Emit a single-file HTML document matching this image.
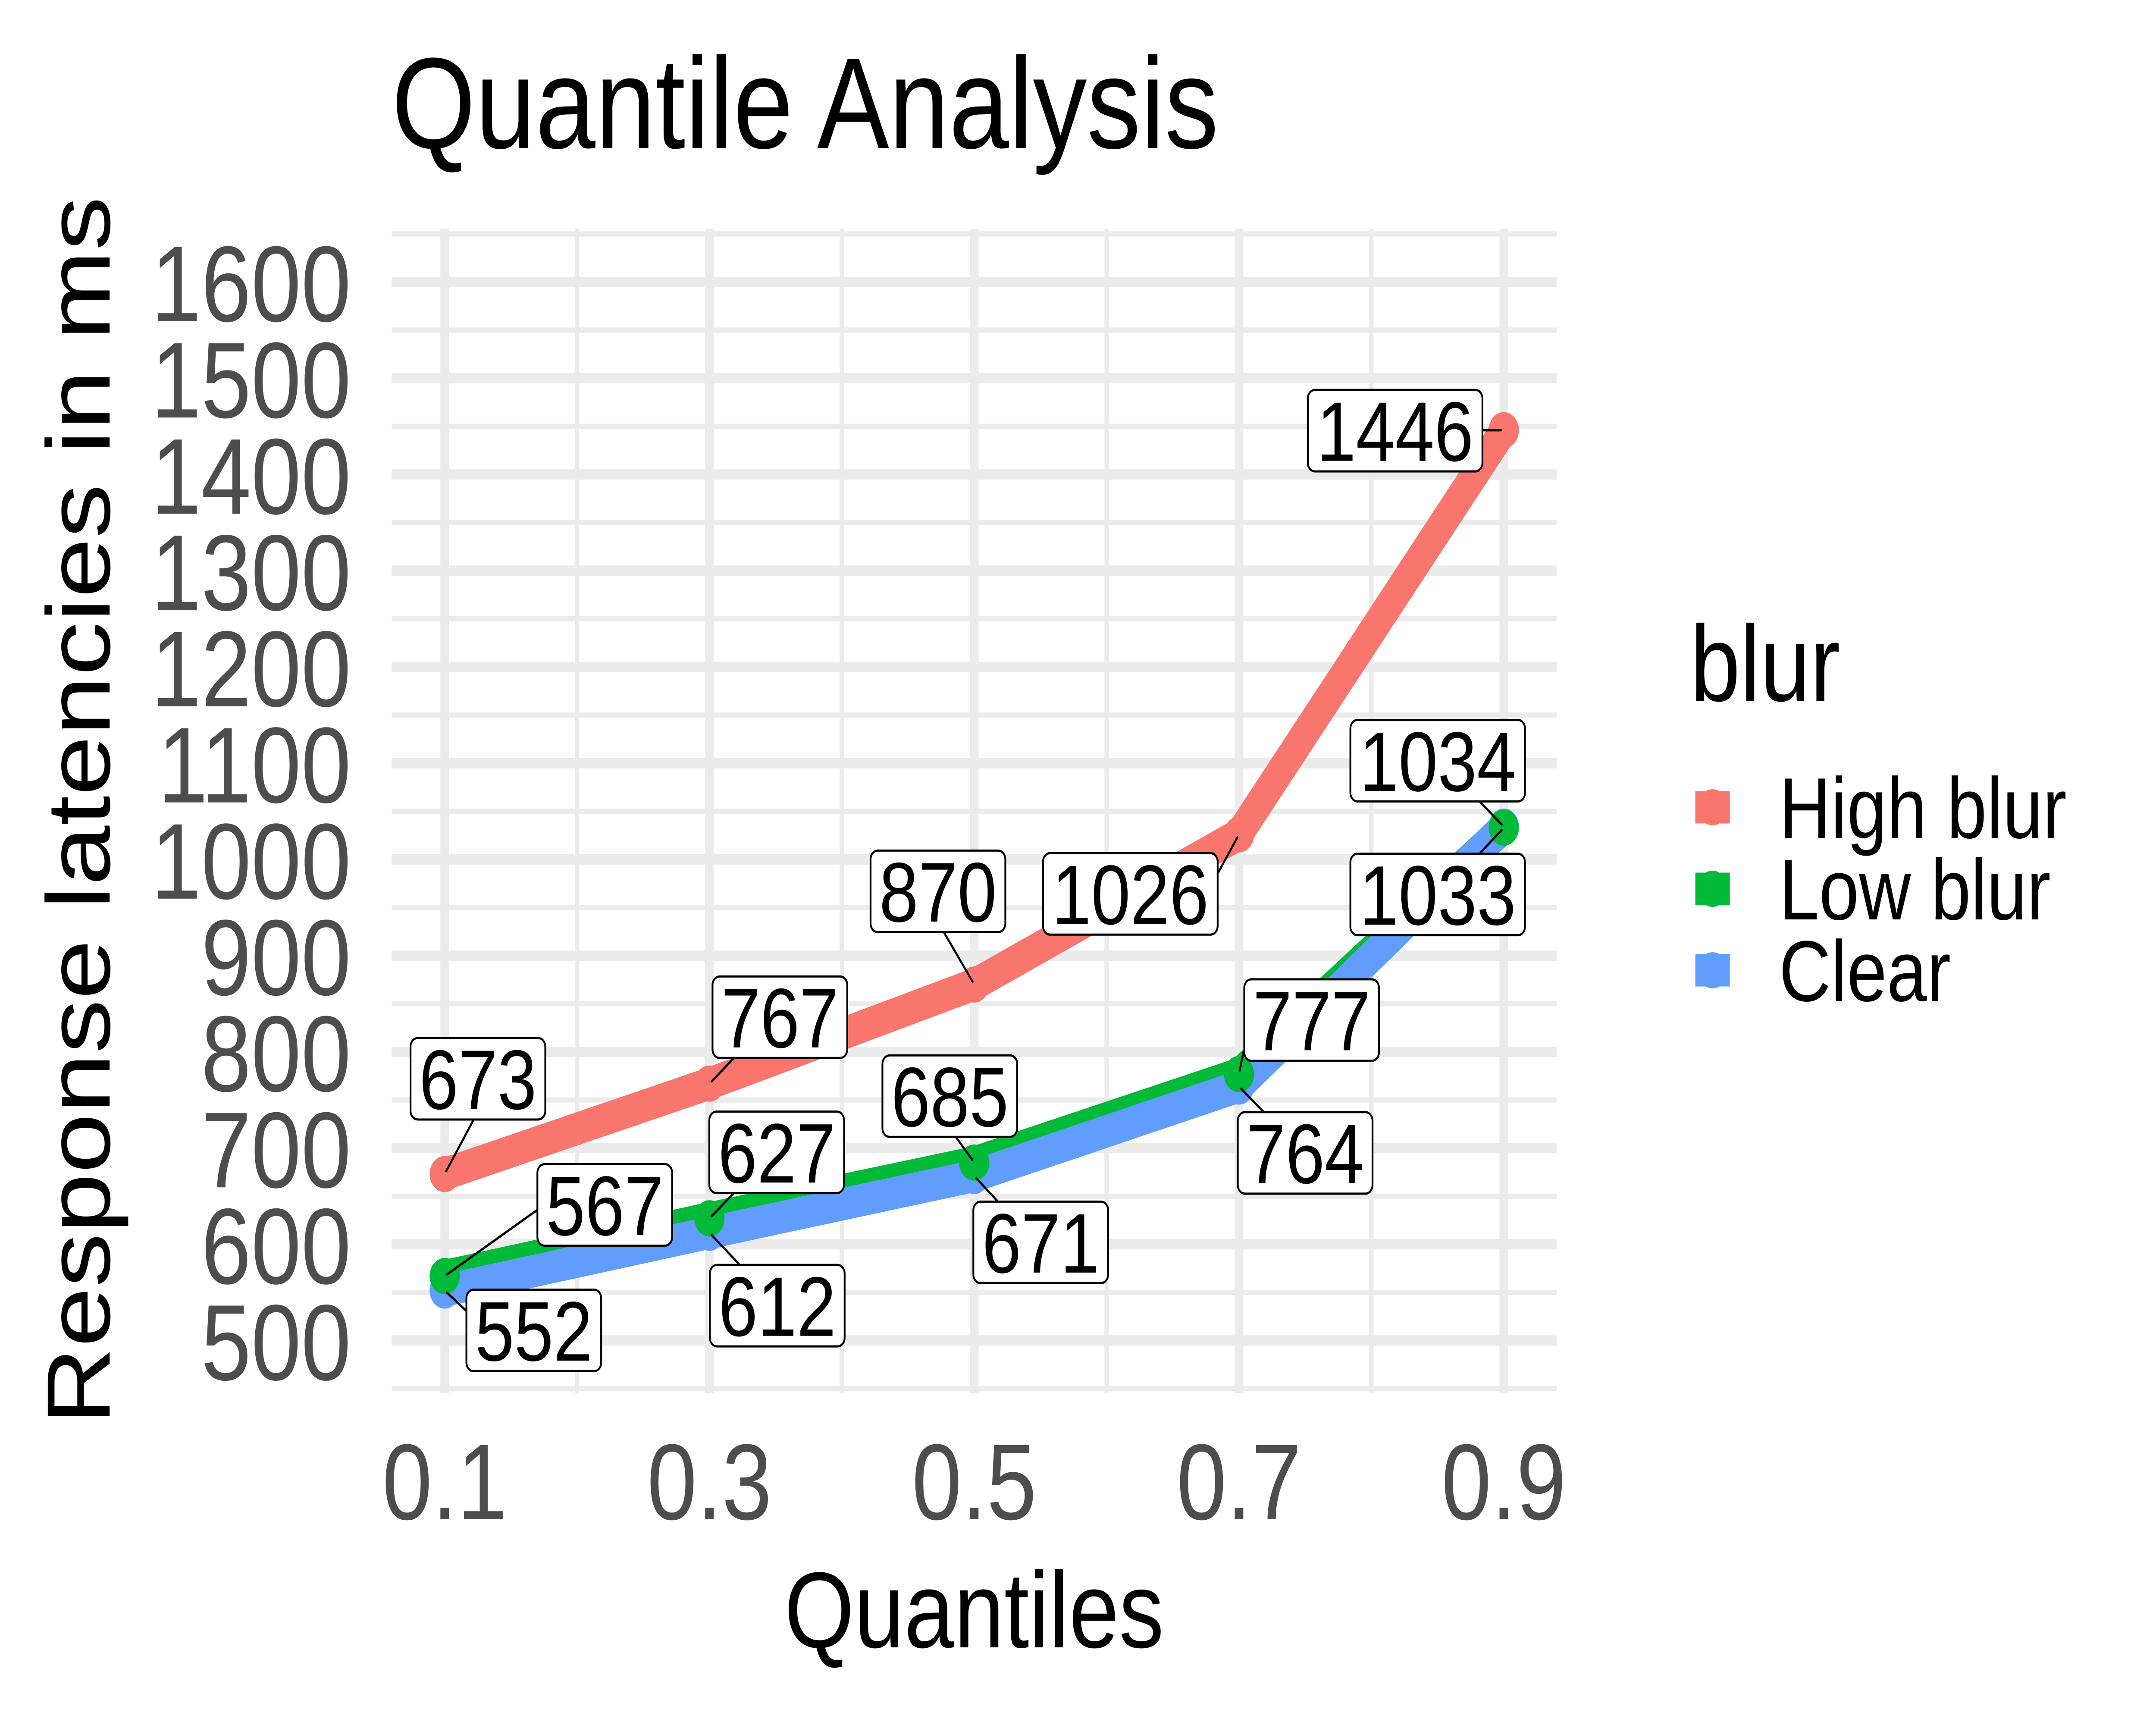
<!DOCTYPE html>
<html lang="en">
<head>
<meta charset="utf-8">
<title>Quantile Analysis</title>
<style>
html,body{margin:0;padding:0;background:#fff;width:100%;height:100%;overflow:hidden;}
svg{display:block;width:100%;height:100%;font-family:"Liberation Sans",Arial,sans-serif;}
</style>
</head>
<body>
<svg id="chart" xmlns="http://www.w3.org/2000/svg" viewBox="0 0 6000 4000" preserveAspectRatio="none">
  <rect x="0" y="0" width="6000" height="4000" fill="#ffffff"/>
  <g id="grid"></g>
  <g id="series-lines"></g>
  <g id="series-points"></g>
  <g id="value-labels"></g>
  <g id="y-ticks" font-size="250" fill="#4D4D4D" text-anchor="end"></g>
  <g id="x-ticks" font-size="250" fill="#4D4D4D" text-anchor="middle"></g>
  <text x="1090" y="343" font-size="300" fill="#000">Quantile Analysis</text>
  <text x="2711" y="3820" font-size="250" fill="#000" text-anchor="middle">Quantiles</text>
  <text transform="translate(305 1880) rotate(-90)" font-size="250" fill="#000" text-anchor="middle">Response latencies in ms</text>
  <g id="legend">
    <text x="4704" y="1625" font-size="250" fill="#000">blur</text>
  </g>
</svg>
<script>
const quantiles = [0.1, 0.3, 0.5, 0.7, 0.9];
const xTickLabels = ["0.1", "0.3", "0.5", "0.7", "0.9"];
const xMinorBreaks = [0.2, 0.4, 0.6, 0.8];
const yTickValues = [500, 600, 700, 800, 900, 1000, 1100, 1200, 1300, 1400, 1500, 1600];
const yMinorBreaks = [450, 550, 650, 750, 850, 950, 1050, 1150, 1250, 1350, 1450, 1550, 1650];
const seriesNames = ["High blur", "Low blur", "Clear"];
const highBlur = [673, 767, 870, 1026, 1446];
const lowBlur = [567, 627, 685, 777, 1033];
const clear = [552, 612, 671, 764, 1034];

const seriesValues = [highBlur, lowBlur, clear];
const seriesColors = ["#F8766D", "#00BA38", "#619CFF"];
const seriesSlugs = ["high-blur", "low-blur", "clear"];

/* Axis scales */
const PANEL = {left: 1090, right: 4332, top: 531, bottom: 3230};
function xScale(q) { return 1237.5 + (q - 0.1) * 3684.4; }
function yScale(v) { return 3108.5 - (v - 500) * 2.2314; }

/* Repelled label placement, expressed relative to each data point */
const labelPlacement = [
  [[-97.5,-318,79.5,-124.5],[6,-251,65.7,-57],[-291,-313,-83,-119],[-548,41,-57,87],[-548,-96,-57,0]],
  [[255.5,-262,255.5,-152],[-3,-250,65.7,-56.5],[-258,-251,-49,-56.7],[12,-222,12,-50],[-429.5,58,-65,58]],
  [[58,-4.5,58,45.5],[-1.3,72,81.7,72],[-5,57,63.3,57],[-6,57,66,57],[-429.5,-250,-66,-57]]
];

const NS = "http://www.w3.org/2000/svg";
function make(parent, tag, attrs, text) {
  const el = document.createElementNS(NS, tag);
  for (const k in attrs) el.setAttribute(k, attrs[k]);
  if (text !== undefined) el.textContent = text;
  parent.appendChild(el);
  return el;
}

const gridG = document.getElementById("grid");
yMinorBreaks.forEach(function (v) {
  const el = make(gridG, "line", {x1: PANEL.left, x2: PANEL.right, y1: yScale(v), y2: yScale(v), stroke: "#EBEBEB", "stroke-width": 12});
  
  
});
xMinorBreaks.forEach(function (q) {
  const el = make(gridG, "line", {x1: xScale(q), x2: xScale(q), y1: PANEL.top, y2: PANEL.bottom, stroke: "#EBEBEB", "stroke-width": 12});
  
  
});
yTickValues.forEach(function (v) {
  const el = make(gridG, "line", {x1: PANEL.left, x2: PANEL.right, y1: yScale(v), y2: yScale(v), stroke: "#EBEBEB", "stroke-width": 24});
  
  
});
quantiles.forEach(function (q) {
  const el = make(gridG, "line", {x1: xScale(q), x2: xScale(q), y1: PANEL.top, y2: PANEL.bottom, stroke: "#EBEBEB", "stroke-width": 24});
  
  
});

const yTicksG = document.getElementById("y-ticks");
yTickValues.forEach(function (v) {
  const el = make(yTicksG, "text", {x: 977, y: yScale(v) + 91}, String(v));
  
  
});
const xTicksG = document.getElementById("x-ticks");
quantiles.forEach(function (q, i) {
  const el = make(xTicksG, "text", {x: xScale(q), y: 3523}, xTickLabels[i]);
  
  
});

const linesG = document.getElementById("series-lines");
seriesValues.forEach(function (vals, s) {
  const pts = vals.map(function (v, i) { return xScale(quantiles[i]) + "," + yScale(v); }).join(" ");
  const el = make(linesG, "polyline", {points: pts, fill: "none", stroke: seriesColors[s], "stroke-width": 75, "stroke-linejoin": "round", "stroke-linecap": "butt"});
  
  
});

const pointsG = document.getElementById("series-points");
[0, 2, 1].forEach(function (s) {
  seriesValues[s].forEach(function (v, i) {
    const el = make(pointsG, "circle", {cx: xScale(quantiles[i]), cy: yScale(v), r: 42, fill: seriesColors[s]});
    
    
  });
});

const labelsG = document.getElementById("value-labels");
seriesValues.forEach(function (vals, s) {
  vals.forEach(function (v, i) {
    const px = xScale(quantiles[i]);
    const py = yScale(v);
    const place = labelPlacement[s][i];
    const txt = String(v);
    const w = 380 + 111 * (txt.length - 3);
    const h = 194;
    const left = px + place[0];
    const top = py + place[1];
    const ax = px + place[2];
    const ay = py + place[3];
    const d = Math.hypot(ax - px, ay - py);
    const seg = make(labelsG, "line", {x1: px + (ax - px) / d * 8, y1: py + (ay - py) / d * 8, x2: ax, y2: ay, stroke: "#000", "stroke-width": 5.5, "stroke-linecap": "round"});
    
    
    const box = make(labelsG, "rect", {x: left + 2.5, y: top + 2.5, width: w - 5, height: h - 5, rx: 20, ry: 20, fill: "#fff", stroke: "#000", "stroke-width": 5});
    
    
    const t = make(labelsG, "text", {x: left + w / 2, y: top + h / 2 + 70, "font-size": 196, fill: "#000", "text-anchor": "middle"}, txt);
    
    
  });
});

const legendG = document.getElementById("legend");
seriesNames.forEach(function (name, s) {
  const cy = 1872 + s * 189;
  const keyLine = make(legendG, "line", {x1: 4718, x2: 4814, y1: cy, y2: cy, stroke: seriesColors[s], "stroke-width": 75});
  
  
  const keyDot = make(legendG, "circle", {cx: 4766, cy: cy, r: 42, fill: seriesColors[s]});
  
  
  const label = make(legendG, "text", {x: 4951, y: cy + 71, "font-size": 200, fill: "#000"}, name);
  
  
});
</script>
</body>
</html>
